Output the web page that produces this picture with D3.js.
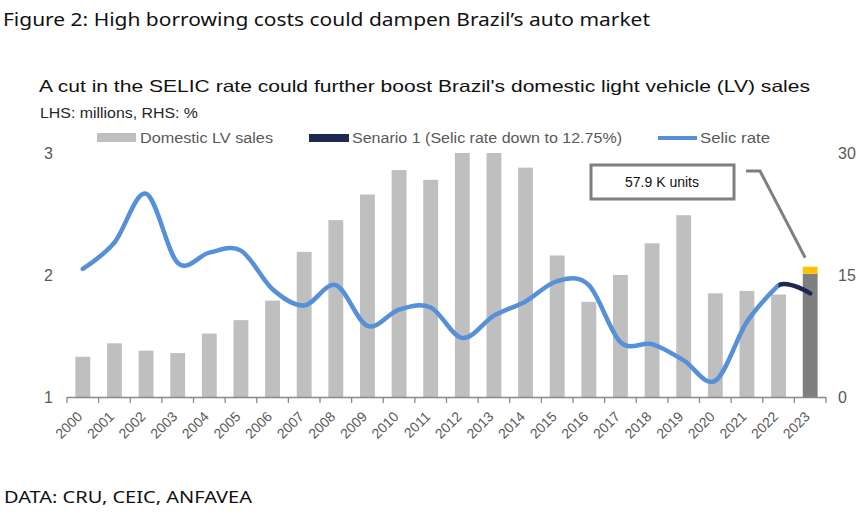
<!DOCTYPE html>
<html>
<head>
<meta charset="utf-8">
<script src="https://cdn.jsdelivr.net/npm/d3@7"></script>
<style>
  body { margin: 0; background: #fff; }
  svg { display: block; }
</style>
</head>
<body>
<svg id="chart" width="868" height="526"></svg>
<script>
const years = ["2000", "2001", "2002", "2003", "2004", "2005", "2006", "2007", "2008", "2009", "2010", "2011",
    "2012", "2013", "2014", "2015", "2016", "2017", "2018", "2019", "2020", "2021", "2022", "2023"];

// domestic LV sales, millions (LHS)
const lvSales = [1.33, 1.44, 1.38, 1.36, 1.52, 1.63, 1.79, 2.19, 2.45, 2.66, 2.86, 2.78,
    3.0, 3.0, 2.88, 2.16, 1.78, 2.0, 2.26, 2.49, 1.85, 1.87, 1.84, 2.01];

// extra sales in scenario 1, millions (2023 only)
const scenarioYear = "2023";
const scenarioExtra = 0.0579;

// Selic rate, % (RHS)
const selicRate = [15.75, 19.0, 25.0, 16.5, 17.75, 18.0, 13.25, 11.25, 13.75, 8.75, 10.75, 11.0,
    7.25, 10.0, 11.75, 14.25, 13.75, 6.75, 6.5, 4.5, 2.0, 9.25, 13.75];

// scenario 1 Selic path, % (2021 only shapes the curve, drawn from 2022)
const scenarioYears = ["2021", "2022", "2023"];
const scenarioSelic = [9.25, 13.75, 12.75];

const leftTicks = [1, 2, 3];
const rightTicks = [0, 15, 30];

const margin = {left: 67, right: 826, top: 153, bottom: 397};
const grey = "#bfbfbf";
const darkGrey = "#7f7f7f";
const blue = "#5590d8";
const navy = "#1f2850";
const yellow = "#ffc000";
const labelColor = "#595959";
const chartFont = "'Liberation Sans', Arial, sans-serif";
const figFont = "'Noto Sans', 'Open Sans', sans-serif";

const svg = d3.select("#chart");

const x = d3.scaleBand().domain(years).range([margin.left, margin.right]).padding(0);
const yLeft = d3.scaleLinear().domain([1, 3]).range([margin.bottom, margin.top]);
const yRight = d3.scaleLinear().domain([0, 30]).range([margin.bottom, margin.top]);
const barW = x.bandwidth() * 0.47;
const cx = d => x(d) + x.bandwidth() / 2;

// squeeze/stretch a text to the width it has in the picture
const fit = (sel, w) => sel.attr("textLength", w).attr("lengthAdjust", "spacingAndGlyphs");

// headings
svg.append("text")
    .attr("x", 3).attr("y", 26)
    .attr("font-family", figFont).attr("font-size", 18.5).attr("fill", "#111")
    .text("Figure 2: High borrowing costs could dampen Brazil\u2019s auto market")
    .call(fit, 647);

svg.append("text")
    .attr("x", 39).attr("y", 92)
    .attr("font-family", chartFont).attr("font-size", 16.5).attr("fill", "#111")
    .text("A cut in the SELIC rate could further boost Brazil's domestic light vehicle (LV) sales")
    .call(fit, 771);

svg.append("text")
    .attr("x", 40).attr("y", 118)
    .attr("font-family", chartFont).attr("font-size", 14).attr("fill", "#262626")
    .text("LHS: millions, RHS: %")
    .call(fit, 158);

// legend
const legend = svg.append("g").attr("font-family", chartFont).attr("font-size", 14).attr("fill", labelColor);
legend.append("rect").attr("x", 97).attr("y", 133).attr("width", 39).attr("height", 9).attr("fill", grey);
legend.append("text").attr("x", 140).attr("y", 143).text("Domestic LV sales").call(fit, 133);
legend.append("rect").attr("x", 309).attr("y", 134).attr("width", 40).attr("height", 8).attr("fill", navy);
legend.append("text").attr("x", 352).attr("y", 143).text("Senario 1 (Selic rate down to 12.75%)").call(fit, 270);
legend.append("line").attr("x1", 658).attr("x2", 697).attr("y1", 138).attr("y2", 138)
    .attr("stroke", blue).attr("stroke-width", 4);
legend.append("text").attr("x", 700).attr("y", 143).text("Selic rate").call(fit, 70);

// clip so bars above 3m stop at the top of the plot
svg.append("clipPath").attr("id", "plot-clip")
    .append("rect")
    .attr("x", margin.left).attr("y", margin.top)
    .attr("width", margin.right - margin.left).attr("height", margin.bottom - margin.top);

const bars = svg.append("g").attr("clip-path", "url(#plot-clip)");
bars.selectAll("rect.sales")
    .data(years.map((year, i) => ({year, value: lvSales[i]})))
    .join("rect")
    .attr("class", "sales")
    .attr("x", d => cx(d.year) - barW / 2)
    .attr("width", barW)
    .attr("y", d => yLeft(d.value))
    .attr("height", d => yLeft(1) - yLeft(d.value))
    .attr("fill", d => d.year === scenarioYear ? darkGrey : grey);

const lastSales = lvSales[years.indexOf(scenarioYear)];
bars.append("rect")
    .attr("x", cx(scenarioYear) - barW / 2)
    .attr("width", barW)
    .attr("y", yLeft(lastSales + scenarioExtra))
    .attr("height", yLeft(lastSales) - yLeft(lastSales + scenarioExtra))
    .attr("fill", yellow);

// selic lines (excel style smoothing)
const line = d3.line()
    .x(d => cx(d.year))
    .y(d => yRight(d.value))
    .curve(d3.curveCatmullRom.alpha(0));

svg.append("path")
    .datum(selicRate.map((value, i) => ({year: years[i], value})))
    .attr("d", line)
    .attr("fill", "none")
    .attr("stroke", blue)
    .attr("stroke-width", 4.5)
    .attr("stroke-linecap", "round")
    .attr("stroke-linejoin", "round");

svg.append("clipPath").attr("id", "scenario-clip")
    .append("rect")
    .attr("x", cx("2022")).attr("y", 0)
    .attr("width", margin.right - cx("2022")).attr("height", margin.bottom);

svg.append("path")
    .datum(scenarioYears.map((year, i) => ({year, value: scenarioSelic[i]})))
    .attr("clip-path", "url(#scenario-clip)")
    .attr("d", line)
    .attr("fill", "none")
    .attr("stroke", navy)
    .attr("stroke-width", 4.5)
    .attr("stroke-linecap", "round");

// x axis: line, ticks at band edges, rotated year labels
const axis = svg.append("g").attr("stroke", "#898989").attr("stroke-width", 1.3);
axis.append("line")
    .attr("x1", margin.left).attr("x2", margin.right)
    .attr("y1", margin.bottom + 0.5).attr("y2", margin.bottom + 0.5);
axis.selectAll("line.tick")
    .data(years.concat([null]))
    .join("line")
    .attr("class", "tick")
    .attr("x1", (d, i) => margin.left + i * x.step())
    .attr("x2", (d, i) => margin.left + i * x.step())
    .attr("y1", margin.bottom)
    .attr("y2", margin.bottom + 6);

svg.append("g")
    .attr("font-family", chartFont).attr("font-size", 14).attr("fill", labelColor)
    .attr("text-anchor", "end")
    .selectAll("text")
    .data(years)
    .join("text")
    .attr("transform", d => `translate(${cx(d) - 3},${margin.bottom + 17}) rotate(-45)`)
    .attr("dy", "0.35em")
    .text(d => d);

// y tick labels
svg.append("g")
    .attr("font-family", chartFont).attr("font-size", 16).attr("fill", labelColor)
    .attr("text-anchor", "end")
    .selectAll("text")
    .data(leftTicks)
    .join("text")
    .attr("x", 53)
    .attr("y", d => yLeft(d))
    .attr("dy", "0.36em")
    .text(d => d);

svg.append("g")
    .attr("font-family", chartFont).attr("font-size", 16).attr("fill", labelColor)
    .selectAll("text")
    .data(rightTicks)
    .join("text")
    .attr("x", 838)
    .attr("y", d => yRight(d))
    .attr("dy", "0.36em")
    .text(d => d);

// callout
const callout = svg.append("g");
callout.append("rect")
    .attr("x", 591).attr("y", 165).attr("width", 143).attr("height", 34)
    .attr("fill", "#fff").attr("stroke", darkGrey).attr("stroke-width", 3);
callout.append("text")
    .attr("x", 662).attr("y", 187)
    .attr("text-anchor", "middle")
    .attr("font-family", chartFont).attr("font-size", 14).attr("fill", "#111")
    .text("57.9 K units");
callout.append("path")
    .attr("d", `M746,171 L760,171 L${cx(scenarioYear) - 5},${yLeft(lastSales + scenarioExtra) - 9}`)
    .attr("fill", "none").attr("stroke", darkGrey).attr("stroke-width", 3);

// source
svg.append("text")
    .attr("x", 4).attr("y", 503)
    .attr("font-family", figFont).attr("font-size", 16).attr("fill", "#111")
    .text("DATA: CRU, CEIC, ANFAVEA")
    .call(fit, 248);
</script>
</body>
</html>
